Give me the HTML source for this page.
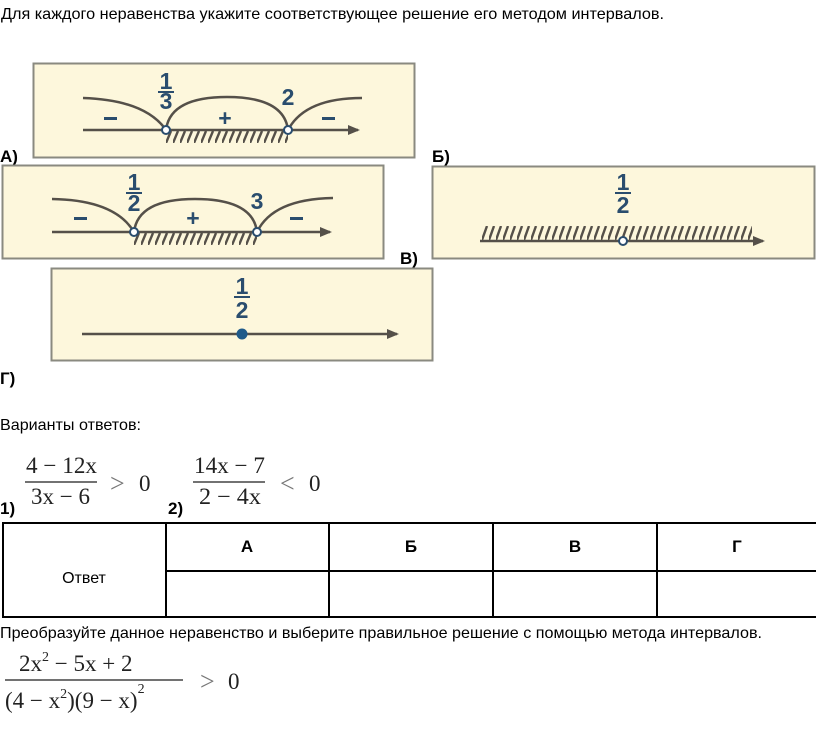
<!DOCTYPE html>
<html><head><meta charset="utf-8"><style>
html,body{margin:0;padding:0;background:#fff;width:816px;height:742px;overflow:hidden}
svg{display:block}
.t{font-family:"Liberation Sans",sans-serif;font-size:16px;fill:#000}
.b{font-family:"Liberation Sans",sans-serif;font-size:17px;font-weight:bold;fill:#000}
.n{font-family:"Liberation Sans",sans-serif;font-size:23px;font-weight:bold;fill:#2a4d6e}
.m{font-family:"Liberation Serif",serif;font-size:23px;fill:#222}
.g{font-family:"Liberation Serif",serif;font-size:26px;fill:#777}
</style></head><body>
<svg width="816" height="742" viewBox="0 0 816 742" xmlns="http://www.w3.org/2000/svg">
<defs>
<pattern id="h1" patternUnits="userSpaceOnUse" x="166" y="131" width="7" height="12">
<path d="M0,12 L5,0" stroke="#555049" stroke-width="2.4"/>
</pattern>
<pattern id="h2" patternUnits="userSpaceOnUse" x="134" y="233" width="7" height="12">
<path d="M0,12 L5,0" stroke="#555049" stroke-width="2.4"/>
</pattern>
<pattern id="h3" patternUnits="userSpaceOnUse" x="482" y="226" width="7" height="14">
<path d="M0,14 L5,0" stroke="#555049" stroke-width="2.4"/>
</pattern>
<marker id="ar" markerWidth="12" markerHeight="10" refX="10" refY="5" orient="auto" markerUnits="userSpaceOnUse">
<path d="M0,0 L12,5 L0,10 Z" fill="#555049"/>
</marker>
</defs>

<text class="t" x="1" y="19" textLength="663" lengthAdjust="spacingAndGlyphs">Для каждого неравенства укажите соответствующее решение его методом интервалов.</text>

<!-- Panel A -->
<rect x="33.5" y="63.5" width="381" height="94" fill="#fdf7dc" stroke="#8a8a80" stroke-width="2"/>
<rect x="166" y="131" width="122" height="12" fill="url(#h1)"/>
<line x1="83" y1="130" x2="358" y2="130" stroke="#555049" stroke-width="2.5" marker-end="url(#ar)"/>
<path d="M83,98 Q145,100 166,130" fill="none" stroke="#555049" stroke-width="2.5"/>
<path d="M166,130 Q170,97 227,97 Q284,97 288,130" fill="none" stroke="#555049" stroke-width="2.5"/>
<path d="M288,130 Q305,98 362,98" fill="none" stroke="#555049" stroke-width="2.5"/>
<circle cx="166" cy="130" r="4" fill="#fff" stroke="#2a4d6e" stroke-width="2"/>
<circle cx="288" cy="130" r="4" fill="#fff" stroke="#2a4d6e" stroke-width="2"/>
<text class="n" x="166" y="89" text-anchor="middle">1</text>
<line x1="158" y1="92" x2="174" y2="92" stroke="#2a4d6e" stroke-width="2"/>
<text class="n" x="166" y="109" text-anchor="middle">3</text>
<text class="n" x="288" y="105" text-anchor="middle">2</text>
<rect x="104" y="117" width="13" height="3" fill="#2a4d6e"/>
<text class="n" x="225" y="126" text-anchor="middle">+</text>
<rect x="322" y="117" width="13" height="3" fill="#2a4d6e"/>

<text class="b" x="0" y="162">А)</text>
<text class="b" x="432" y="162">Б)</text>

<!-- Panel Б (left) -->
<rect x="2.5" y="165.5" width="381" height="93" fill="#fdf7dc" stroke="#8a8a80" stroke-width="2"/>
<rect x="134" y="233" width="123" height="12" fill="url(#h2)"/>
<line x1="52" y1="232" x2="330" y2="232" stroke="#555049" stroke-width="2.5" marker-end="url(#ar)"/>
<path d="M52,199 Q115,200 134,232" fill="none" stroke="#555049" stroke-width="2.5"/>
<path d="M134,232 Q138,199 195,199 Q253,199 257,232" fill="none" stroke="#555049" stroke-width="2.5"/>
<path d="M257,232 Q273,199 333,198" fill="none" stroke="#555049" stroke-width="2.5"/>
<circle cx="134" cy="232" r="4" fill="#fff" stroke="#2a4d6e" stroke-width="2"/>
<circle cx="257" cy="232" r="4" fill="#fff" stroke="#2a4d6e" stroke-width="2"/>
<text class="n" x="134" y="190" text-anchor="middle">1</text>
<line x1="126" y1="193" x2="142" y2="193" stroke="#2a4d6e" stroke-width="2"/>
<text class="n" x="134" y="211" text-anchor="middle">2</text>
<text class="n" x="257" y="209" text-anchor="middle">3</text>
<rect x="74" y="217" width="13" height="3" fill="#2a4d6e"/>
<text class="n" x="193" y="226" text-anchor="middle">+</text>
<rect x="290" y="217" width="13" height="3" fill="#2a4d6e"/>

<!-- Panel В (right) -->
<rect x="432.5" y="166.5" width="382" height="92" fill="#fdf7dc" stroke="#8a8a80" stroke-width="2"/>
<rect x="482" y="226" width="270" height="14" fill="url(#h3)"/>
<line x1="480" y1="241" x2="763" y2="241" stroke="#555049" stroke-width="2.5" marker-end="url(#ar)"/>
<circle cx="623" cy="241" r="4" fill="#fff" stroke="#2a4d6e" stroke-width="2"/>
<text class="n" x="623" y="190" text-anchor="middle">1</text>
<line x1="615" y1="193" x2="631" y2="193" stroke="#2a4d6e" stroke-width="2"/>
<text class="n" x="623" y="213" text-anchor="middle">2</text>

<text class="b" x="400" y="264">В)</text>

<!-- Panel Г -->
<rect x="51.5" y="268.5" width="381" height="92" fill="#fdf7dc" stroke="#8a8a80" stroke-width="2"/>
<line x1="82" y1="334" x2="397" y2="334" stroke="#555049" stroke-width="2.5" marker-end="url(#ar)"/>
<circle cx="242" cy="334" r="5.5" fill="#1f5a8a"/>
<text class="n" x="242" y="294" text-anchor="middle">1</text>
<line x1="234" y1="297" x2="250" y2="297" stroke="#2a4d6e" stroke-width="2"/>
<text class="n" x="242" y="318" text-anchor="middle">2</text>

<text class="b" x="0" y="384">Г)</text>

<text class="t" x="0" y="430" textLength="141" lengthAdjust="spacingAndGlyphs">Варианты ответов:</text>

<!-- inequalities -->
<text class="m" x="26" y="473" textLength="71" lengthAdjust="spacingAndGlyphs">4 − 12x</text>
<line x1="25" y1="482" x2="97" y2="482" stroke="#444" stroke-width="1.5"/>
<text class="m" x="31" y="504" textLength="59" lengthAdjust="spacingAndGlyphs">3x − 6</text>
<text class="g" x="110" y="492">&gt;</text>
<text class="m" x="139" y="491">0</text>
<text class="b" x="0" y="514">1)</text>

<text class="m" x="194" y="473" textLength="71" lengthAdjust="spacingAndGlyphs">14x − 7</text>
<line x1="193" y1="482" x2="265" y2="482" stroke="#444" stroke-width="1.5"/>
<text class="m" x="199" y="504" textLength="62" lengthAdjust="spacingAndGlyphs">2 − 4x</text>
<text class="g" x="280" y="492">&lt;</text>
<text class="m" x="309" y="491">0</text>
<text class="b" x="168" y="514">2)</text>

<!-- table -->
<g stroke="#000" stroke-width="2" fill="none">
<rect x="3" y="523" width="820" height="94"/>
<line x1="166" y1="523" x2="166" y2="617"/>
<line x1="329" y1="523" x2="329" y2="617"/>
<line x1="493" y1="523" x2="493" y2="617"/>
<line x1="657" y1="523" x2="657" y2="617"/>
<line x1="166" y1="571" x2="816" y2="571"/>
</g>
<text class="b" x="247" y="552" text-anchor="middle" font-size="16">А</text>
<text class="b" x="411" y="552" text-anchor="middle" font-size="16">Б</text>
<text class="b" x="575" y="552" text-anchor="middle" font-size="16">В</text>
<text class="b" x="737" y="552" text-anchor="middle" font-size="16">Г</text>
<text class="t" x="84" y="583" text-anchor="middle">Ответ</text>

<text class="t" x="0" y="638" textLength="762" lengthAdjust="spacingAndGlyphs">Преобразуйте данное неравенство и выберите правильное решение с помощью метода интервалов.</text>

<!-- last fraction -->
<text class="m" x="19" y="671">2x<tspan font-size="14" dy="-10">2</tspan><tspan dy="10"> − 5x + 2</tspan></text>
<line x1="5" y1="680" x2="183" y2="680" stroke="#444" stroke-width="1.5"/>
<text class="m" x="5" y="708">(4 − x<tspan font-size="14" dy="-10">2</tspan><tspan dy="10">)(9 − x)</tspan><tspan font-size="14" dy="-15">2</tspan></text>
<text class="g" x="200" y="690">&gt;</text>
<text class="m" x="228" y="689">0</text>
</svg>
</body></html>
